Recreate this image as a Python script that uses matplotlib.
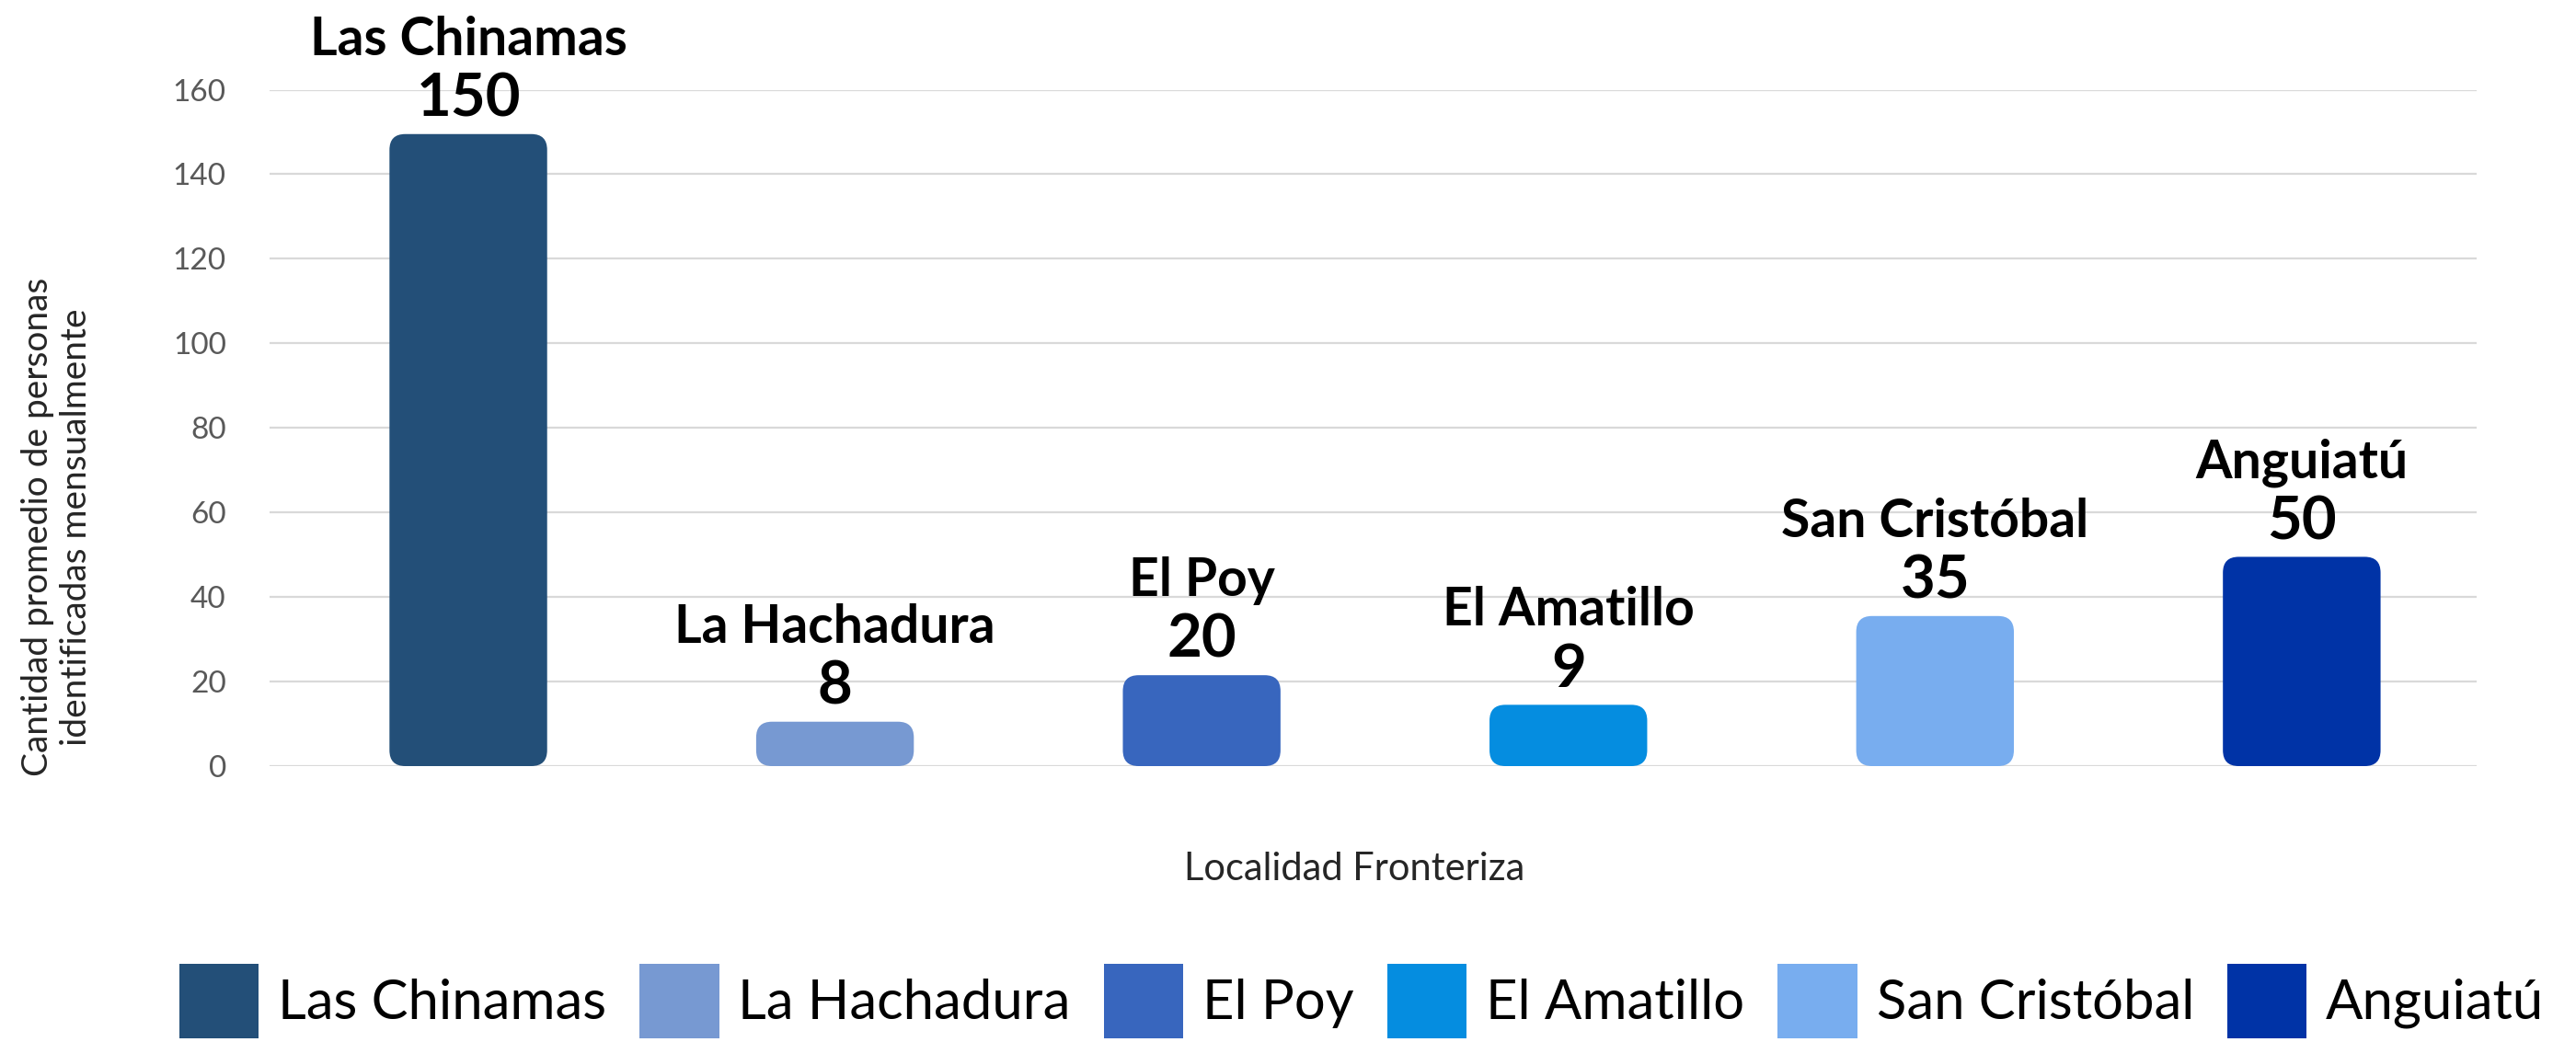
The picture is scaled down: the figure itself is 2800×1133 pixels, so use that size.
import matplotlib
matplotlib.use("Agg")
import matplotlib.pyplot as plt
from matplotlib.patches import FancyBboxPatch, Patch

plt.rcParams['font.family'] = ['Lato', 'DejaVu Sans']

# data
localidades = ['Las Chinamas', 'La Hachadura', 'El Poy', 'El Amatillo', 'San Cristóbal', 'Anguiatú']
alturas = [149.5, 10.5, 21.5, 14.5, 35.5, 49.5]   # bar heights as drawn
etiquetas = [150, 8, 20, 9, 35, 50]               # value labels as printed
colores = ['#234F78', '#7799D2', '#3866BE', '#058DE0', '#78ADEF', '#0033A6']

W, H = 2800, 1133
fig = plt.figure(figsize=(W / 100, H / 100), dpi=100)
ax = fig.add_axes([293 / W, 1 - 833 / H, (2692 - 293) / W, (833 - 97.5) / H])

x = list(range(len(localidades)))
bars = ax.bar(x, alturas, width=0.43, color=colores, label=localidades)

ax.set_xlim(-0.542, 5.477)
ax.set_ylim(0, 160)

# rounded corners
aspect = (160 / 735.5) / (1 / 398.8)
for b in bars:
    b.set_visible(False)
    p = FancyBboxPatch((b.get_x(), b.get_y()), b.get_width(), b.get_height(),
                       boxstyle="round,pad=0,rounding_size=0.043",
                       mutation_aspect=aspect, fc=b.get_facecolor(), ec='none', zorder=3)
    ax.add_patch(p)

for xi, h, name, val in zip(x, alturas, localidades, etiquetas):
    ax.annotate(str(val), (xi, h), xytext=(0, 14), textcoords='offset points',
                ha='center', va='baseline', fontsize=47, fontweight='bold',
                color='black', annotation_clip=False)
    ax.annotate(name, (xi, h), xytext=(0, 62), textcoords='offset points',
                ha='center', va='baseline', fontsize=41, fontweight='bold',
                color='black', annotation_clip=False)

ax.set_yticks(range(0, 161, 20))
ax.set_xticks([])
ax.tick_params(axis='y', length=0, pad=34, labelsize=24, labelcolor='#595959')
ax.grid(axis='y', color='#D9D9D9', linewidth=1.6, zorder=0)
ax.set_axisbelow(True)
for s in ax.spines.values():
    s.set_visible(False)

fig.text(62 / W, 1 - 573 / H, 'Cantidad promedio de personas\nidentificadas mensualmente',
         rotation=90, ha='center', va='center', multialignment='center',
         fontsize=28, color='#262626')
fig.text(1472 / W, 1 - 957 / H, 'Localidad Fronteriza', ha='center', va='baseline',
         fontsize=30, color='#262626')

handles = [Patch(facecolor=c) for c in colores]
fig.legend(handles, localidades, loc='upper center', bbox_to_anchor=(1480 / W, 1 - 1048 / H),
           ncol=6, frameon=False, fontsize=43, handlelength=1.45, handleheight=1.7,
           handletextpad=0.35, columnspacing=0.6, borderpad=0, borderaxespad=0)

fig.savefig('out.png', dpi=100)
